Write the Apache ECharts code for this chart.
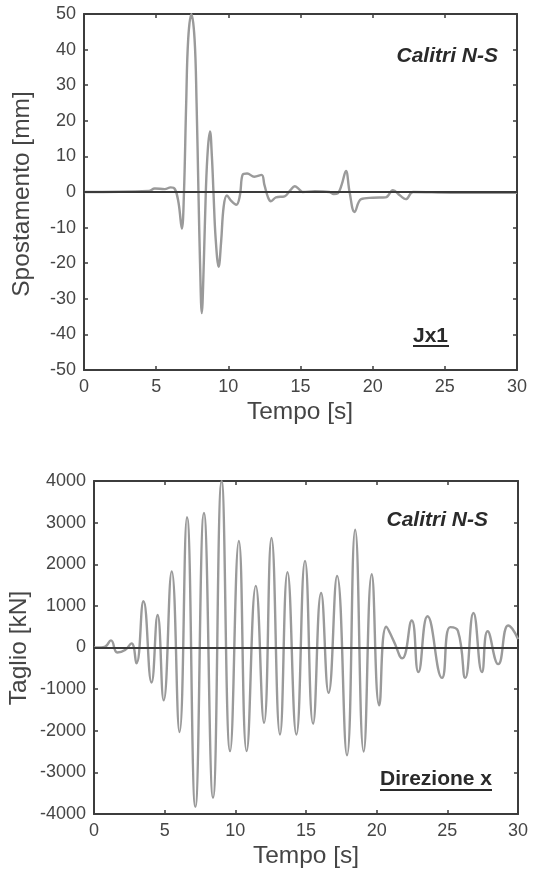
<!DOCTYPE html>
<html>
<head>
<meta charset="utf-8">
<script src="https://cdn.jsdelivr.net/npm/echarts@6/dist/echarts.min.js"></script>
<style>
  html, body { margin: 0; padding: 0; background: #ffffff; }
  #chart { width: 544px; height: 869px; }
</style>
</head>
<body>
<div id="chart"></div>
<script>
// Tick values for the axes
const timeTicks = [0, 5, 10, 15, 20, 25, 30];
const dispTicks = [-50, -40, -30, -20, -10, 0, 10, 20, 30, 40, 50];
const shearTicks = [-4000, -3000, -2000, -1000, 0, 1000, 2000, 3000, 4000];

// Displacement history (s, mm)
const dispTime = [0, 4.5, 4.9, 5.6, 6.0, 6.3, 6.55, 6.78, 6.92, 7.08, 7.22, 7.44, 7.66, 7.8, 7.93, 8.04, 8.16, 8.3, 8.44, 8.58, 8.73, 8.86, 8.97, 9.12, 9.33, 9.5, 9.68, 9.9, 10.2, 10.55, 10.8, 11.0, 11.3, 11.8, 12.3, 12.5, 12.75, 12.95, 13.3, 13.9, 14.3, 14.6, 14.9, 15.15, 16.0, 17.0, 17.3, 17.6, 17.85, 18.15, 18.4, 18.75, 19.2, 20.0, 20.9, 21.4, 21.9, 22.3, 22.8, 25.5, 30];
const dispValues = [0, 0.3, 1, 0.8, 1.3, 0.8, -3, -10.3, -1, 25, 43, 50, 43, 25, 0, -20, -34, -20, 0, 12, 17, 10, 0, -13, -21, -14, -4, -1, -2.5, -3.6, -1, 4.9, 5.2, 4.3, 4.8, 2, -1.5, -2.6, -1.5, -1.2, 0.5, 1.6, 0.8, 0, 0.2, 0, -0.6, -0.3, 2, 5.9, 0, -5.6, -2, -1.6, -1.5, 0.5, -1, -2, 0, -0.2, -0.2];

// Base shear history (s, kN)
const shearTime = [0, 0.5, 0.8, 1.2, 1.65, 2.2, 2.65, 3.0, 3.5, 4.07, 4.5, 4.93, 5.5, 6.05, 6.58, 7.17, 7.78, 8.42, 9.03, 9.63, 10.25, 10.8, 11.45, 12.03, 12.56, 13.16, 13.69, 14.32, 14.93, 15.5, 16.07, 16.6, 17.2, 17.9, 18.48, 19.08, 19.65, 20.18, 20.68, 21.2, 21.8, 22.48, 22.95, 23.6, 24.62, 25.2, 25.75, 26.27, 26.85, 27.45, 27.85, 28.6, 29.3, 29.6, 30];
const shearValues = [0, 0, 20, 170, -120, -60, 100, -380, 1110, -840, 780, -1270, 1830, -2030, 3130, -3830, 3230, -3610, 4000, -2490, 2560, -2490, 1480, -1810, 2630, -2090, 1810, -2090, 2080, -1830, 1310, -1090, 1720, -2590, 2830, -2500, 1760, -1390, 500, 160, -260, 650, -590, 750, -730, 490, 400, -730, 830, -590, 390, -400, 530, 450, 200];

const FONT = 'Liberation Sans, Arial, sans-serif';
const FRAME = '#3c3c3c';
const TEXT = '#454545';

function range(ticks) {
  return { min: ticks[0], max: ticks[ticks.length - 1], interval: ticks[1] - ticks[0] };
}

function axisBase(gridIndex, ticks) {
  const r = range(ticks);
  return {
    type: 'value', gridIndex, min: r.min, max: r.max, interval: r.interval,
    axisLine: { show: true, onZero: false, lineStyle: { color: FRAME, width: 2 } },
    axisTick: { show: true, inside: true, length: 4, lineStyle: { color: FRAME, width: 1.5 } },
    splitLine: { show: false }
  };
}

function labelStyle(margin) {
  return { show: true, margin, fontFamily: FONT, fontSize: 18, color: TEXT, formatter: v => String(v) };
}

function xAxisPair(gridIndex, ticks) {
  const base = axisBase(gridIndex, ticks);
  return [
    Object.assign({}, base, { position: 'bottom', axisLabel: labelStyle(8) }),
    Object.assign({}, base, { position: 'top', axisLabel: { show: false } })
  ];
}

function yAxisPair(gridIndex, ticks) {
  const base = axisBase(gridIndex, ticks);
  return [
    Object.assign({}, base, { position: 'left', axisLabel: labelStyle(8) }),
    Object.assign({}, base, { position: 'right', axisLabel: { show: false } })
  ];
}

function pairs(xs, ys) {
  return xs.map((t, i) => [t, ys[i]]);
}

function zeroLine() {
  return {
    silent: true,
    symbol: ['none', 'none'],
    label: { show: false },
    lineStyle: { color: '#3a3a3a', width: 2, type: 'solid' },
    data: [{ yAxis: 0 }]
  };
}

const chart = echarts.init(document.getElementById('chart'), null, { renderer: 'canvas' });

const titleStyle = { fontFamily: FONT, fontSize: 24.5, fill: TEXT };
const tagStyle = { fontFamily: FONT, fontSize: 21, fontWeight: 'bold', fill: '#2a2a2a' };

chart.setOption({
  animation: false,
  backgroundColor: '#ffffff',
  grid: [
    { left: 84, top: 14, width: 433, height: 356 },
    { left: 94, top: 481, width: 424, height: 333 }
  ],
  xAxis: [].concat(xAxisPair(0, timeTicks), xAxisPair(1, timeTicks)),
  yAxis: [].concat(yAxisPair(0, dispTicks), yAxisPair(1, shearTicks)),
  series: [
    {
      type: 'line', xAxisIndex: 0, yAxisIndex: 0,
      data: pairs(dispTime, dispValues),
      smooth: 0.4, showSymbol: false,
      lineStyle: { color: '#9a9a9a', width: 2.4 },
      markLine: zeroLine()
    },
    {
      type: 'line', xAxisIndex: 2, yAxisIndex: 2,
      data: pairs(shearTime, shearValues),
      smooth: 0.5, showSymbol: false,
      lineStyle: { color: '#9a9a9a', width: 2.4 },
      markLine: zeroLine()
    }
  ],
  graphic: [
    // axis titles
    { type: 'text', x: 22, y: 194, rotation: Math.PI / 2,
      style: Object.assign({ text: 'Spostamento [mm]', align: 'center', verticalAlign: 'middle' }, titleStyle) },
    { type: 'text', x: 300, y: 412,
      style: Object.assign({ text: 'Tempo [s]', align: 'center', verticalAlign: 'middle' }, titleStyle) },
    { type: 'text', x: 19, y: 648, rotation: Math.PI / 2,
      style: Object.assign({ text: 'Taglio [kN]', align: 'center', verticalAlign: 'middle' }, titleStyle) },
    { type: 'text', x: 306, y: 856,
      style: Object.assign({ text: 'Tempo [s]', align: 'center', verticalAlign: 'middle' }, titleStyle) },
    // in-plot tags
    { type: 'text', x: 498, y: 56,
      style: Object.assign({ text: 'Calitri N-S', align: 'right', verticalAlign: 'middle', fontStyle: 'italic' }, tagStyle) },
    { type: 'text', x: 413, y: 336,
      style: Object.assign({ text: 'Jx1', align: 'left', verticalAlign: 'middle' }, tagStyle) },
    { type: 'line', shape: { x1: 413, y1: 346, x2: 449, y2: 346 }, style: { stroke: '#2a2a2a', lineWidth: 2 } },
    { type: 'text', x: 488, y: 520,
      style: Object.assign({ text: 'Calitri N-S', align: 'right', verticalAlign: 'middle', fontStyle: 'italic' }, tagStyle) },
    { type: 'text', x: 380, y: 779,
      style: Object.assign({ text: 'Direzione x', align: 'left', verticalAlign: 'middle' }, tagStyle) },
    { type: 'line', shape: { x1: 380, y1: 790, x2: 492, y2: 790 }, style: { stroke: '#2a2a2a', lineWidth: 2 } }
  ]
});
</script>
</body>
</html>
